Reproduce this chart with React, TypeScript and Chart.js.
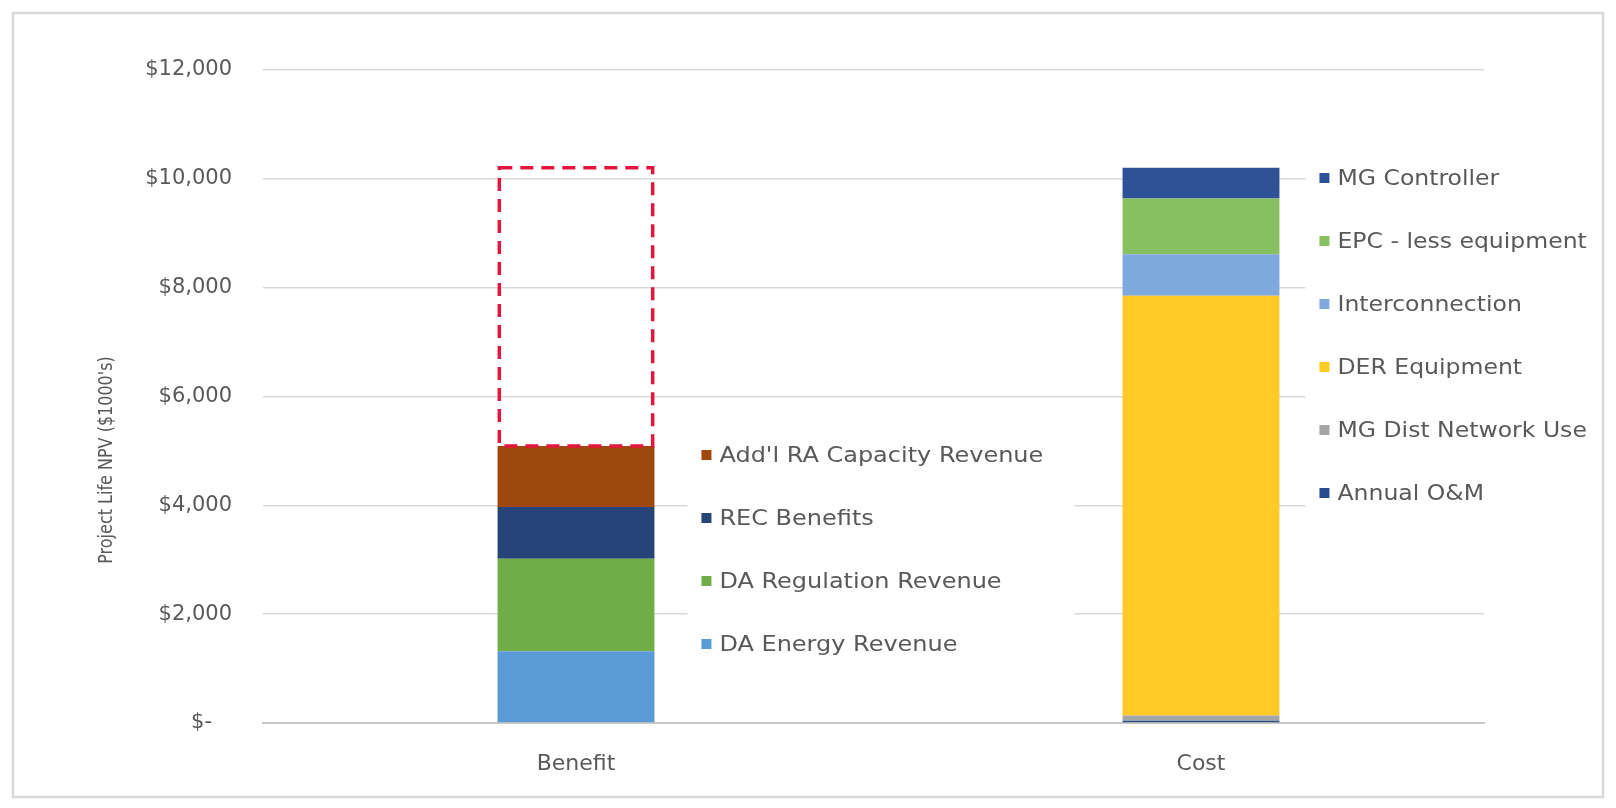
import React, { useEffect, useRef } from "react";
import { Chart, registerables } from "chart.js";

Chart.register(...registerables);

const categories = ["Benefit", "Cost"];

const benefitLabels = ["DA Energy Revenue", "DA Regulation Revenue", "REC Benefits", "Add'l RA Capacity Revenue"];
const benefitValues = [1320, 1700, 950, 1120];
const benefitColors = ["#5B9BD5", "#70AD47", "#264478", "#9E480E"];

const costLabels = ["Annual O&M", "MG Dist Network Use", "DER Equipment", "Interconnection", "EPC - less equipment", "MG Controller"];
const costValues = [40, 100, 7710, 765, 1025, 565];
const costColors = ["#2B4C8C", "#A5A5A5", "#FFC926", "#7EA9DC", "#86C061", "#2F5196"];

const yTickValues = [0, 2000, 4000, 6000, 8000, 10000, 12000];
const yAxisTitle = "Project Life NPV ($1000's)";

// category axis value window (Excel plot area is a bit wider on the left than on the right)
const xStartValue = -0.5008;
const xValueRange = 1.9536;

const FONT = "'DejaVu Sans', 'Liberation Sans', sans-serif";
const TEXT = "#595959";

const sum = (a: number[]) => a.reduce((s, v) => s + v, 0);
const gapValue = sum(costValues) - sum(benefitValues);

function fmtTick(v: number) {
  if (v === 0) return "$-   ";
  return "$" + v.toLocaleString("en-US");
}

function drawLegend(ctx: CanvasRenderingContext2D, items: { label: string; color: string }[], textX: number, firstY: number, step: number, boxRight: number, stretch: number) {
  ctx.save();
  ctx.fillStyle = "#ffffff";
  ctx.fillRect(textX - 32, firstY - 30, boxRight - (textX - 32), step * (items.length - 1) + 60);
  ctx.font = `22px ${FONT}`;
  ctx.textBaseline = "middle";
  ctx.textAlign = "left";
  items.forEach((it, i) => {
    const y = firstY + i * step;
    ctx.fillStyle = it.color;
    ctx.fillRect(textX - 18, y - 5, 10, 10);
    ctx.fillStyle = TEXT;
    ctx.save();
    ctx.translate(textX, y + 1);
    ctx.scale(stretch, 1);
    ctx.fillText(it.label, 0, 0);
    ctx.restore();
  });
  ctx.restore();
}

const decorPlugin = {
  id: "decor",
  beforeDraw(chart: any) {
    const ctx = chart.ctx as CanvasRenderingContext2D;
    ctx.save();
    ctx.fillStyle = "#ffffff";
    ctx.fillRect(0, 0, chart.width, chart.height);
    ctx.strokeStyle = "#D9D9D9";
    ctx.lineWidth = 2.5;
    ctx.strokeRect(13, 13, 1590, 784);
    ctx.restore();
  },
  afterDatasetsDraw(chart: any) {
    const ctx = chart.ctx as CanvasRenderingContext2D;
    const ds = chart.data.datasets;
    const gapIdx = ds.findIndex((d: any) => d.isGap);
    const gapEl = chart.getDatasetMeta(gapIdx).data[0];
    const g = gapEl.getProps(["x", "y", "base", "width"], true);
    ctx.save();
    ctx.setLineDash([13, 8]);
    ctx.strokeStyle = "#E3173E";
    ctx.lineWidth = 3.5;
    ctx.strokeRect(g.x - g.width / 2 + 1.75, g.y, g.width - 3.5, g.base - g.y);
    ctx.restore();

    const bEl = chart.getDatasetMeta(0).data[0].getProps(["x", "width"], true);
    const cEl = chart.getDatasetMeta(benefitValues.length + 1).data[1].getProps(["x", "width"], true);
    const top = chart.chartArea.top;

    const bItems = benefitLabels.map((l, i) => ({ label: l, color: benefitColors[i] })).reverse();
    const cItems = costLabels.map((l, i) => ({ label: l, color: costColors[i] })).reverse();
    drawLegend(ctx, bItems, bEl.x + bEl.width / 2 + 65, top + 385, 63, bEl.x + bEl.width / 2 + 420, 1.09);
    drawLegend(ctx, cItems, cEl.x + cEl.width / 2 + 58, top + 108, 63, 1601, 1.07);

    // axis title
    ctx.save();
    ctx.translate(107, 460);
    ctx.rotate(-Math.PI / 2);
    ctx.scale(1, 1.25);
    ctx.font = `16px ${FONT}`;
    ctx.fillStyle = TEXT;
    ctx.textAlign = "center";
    ctx.textBaseline = "middle";
    ctx.fillText(yAxisTitle, 0, 0);
    ctx.restore();
  },
};

export default function App() {
  const ref = useRef<HTMLCanvasElement>(null);
  useEffect(() => {
    const datasets: any[] = [];
    benefitLabels.forEach((l, i) => {
      datasets.push({ label: l, data: [benefitValues[i], null], backgroundColor: benefitColors[i], borderWidth: 0, stack: "s" });
    });
    datasets.push({ label: "gap", data: [gapValue, null], backgroundColor: "rgba(0,0,0,0)", borderWidth: 0, stack: "s", isGap: true });
    costLabels.forEach((l, i) => {
      datasets.push({ label: l, data: [null, costValues[i]], backgroundColor: costColors[i], borderWidth: 0, stack: "s" });
    });

    const chart = new Chart(ref.current as HTMLCanvasElement, {
      type: "bar",
      data: { labels: categories, datasets },
      options: {
        responsive: false,
        animation: false,
        layout: { padding: { top: 70, right: 132, bottom: 0, left: 0 } },
        datasets: { bar: { categoryPercentage: 1, barPercentage: 0.251 } } as any,
        plugins: { legend: { display: false }, tooltip: { enabled: false } },
        scales: {
          x: {
            stacked: true,
            grid: { display: false },
            border: { display: true, color: "#C8C8C8", width: 2 },
            ticks: { color: TEXT, font: { family: FONT, size: 22 }, padding: 20 },
            afterBuildTicks: (s: any) => { s._startValue = xStartValue; s._valueRange = xValueRange; },
            afterFit: (s: any) => { s.height = 85; },
          },
          y: {
            stacked: true,
            min: 0,
            max: 12000,
            afterBuildTicks: (s: any) => { s.ticks = yTickValues.map((v) => ({ value: v })); },
            ticks: { color: TEXT, font: { family: FONT, size: 21 }, padding: 31, callback: (v: any) => fmtTick(Number(v)) },
            grid: { color: "#D9D9D9", lineWidth: 1.5, drawTicks: false },
            border: { display: false },
            afterFit: (s: any) => { s.width = 263; },
          },
        },
      },
      plugins: [decorPlugin],
    } as any);
    return () => chart.destroy();
  }, []);

  return (
    <div style={{ position: "fixed", left: 0, top: 0, width: 1616, height: 808, background: "#fff" }}>
      <canvas ref={ref} width={1616} height={808} style={{ display: "block", width: 1616, height: 808 }} />
    </div>
  );
}
